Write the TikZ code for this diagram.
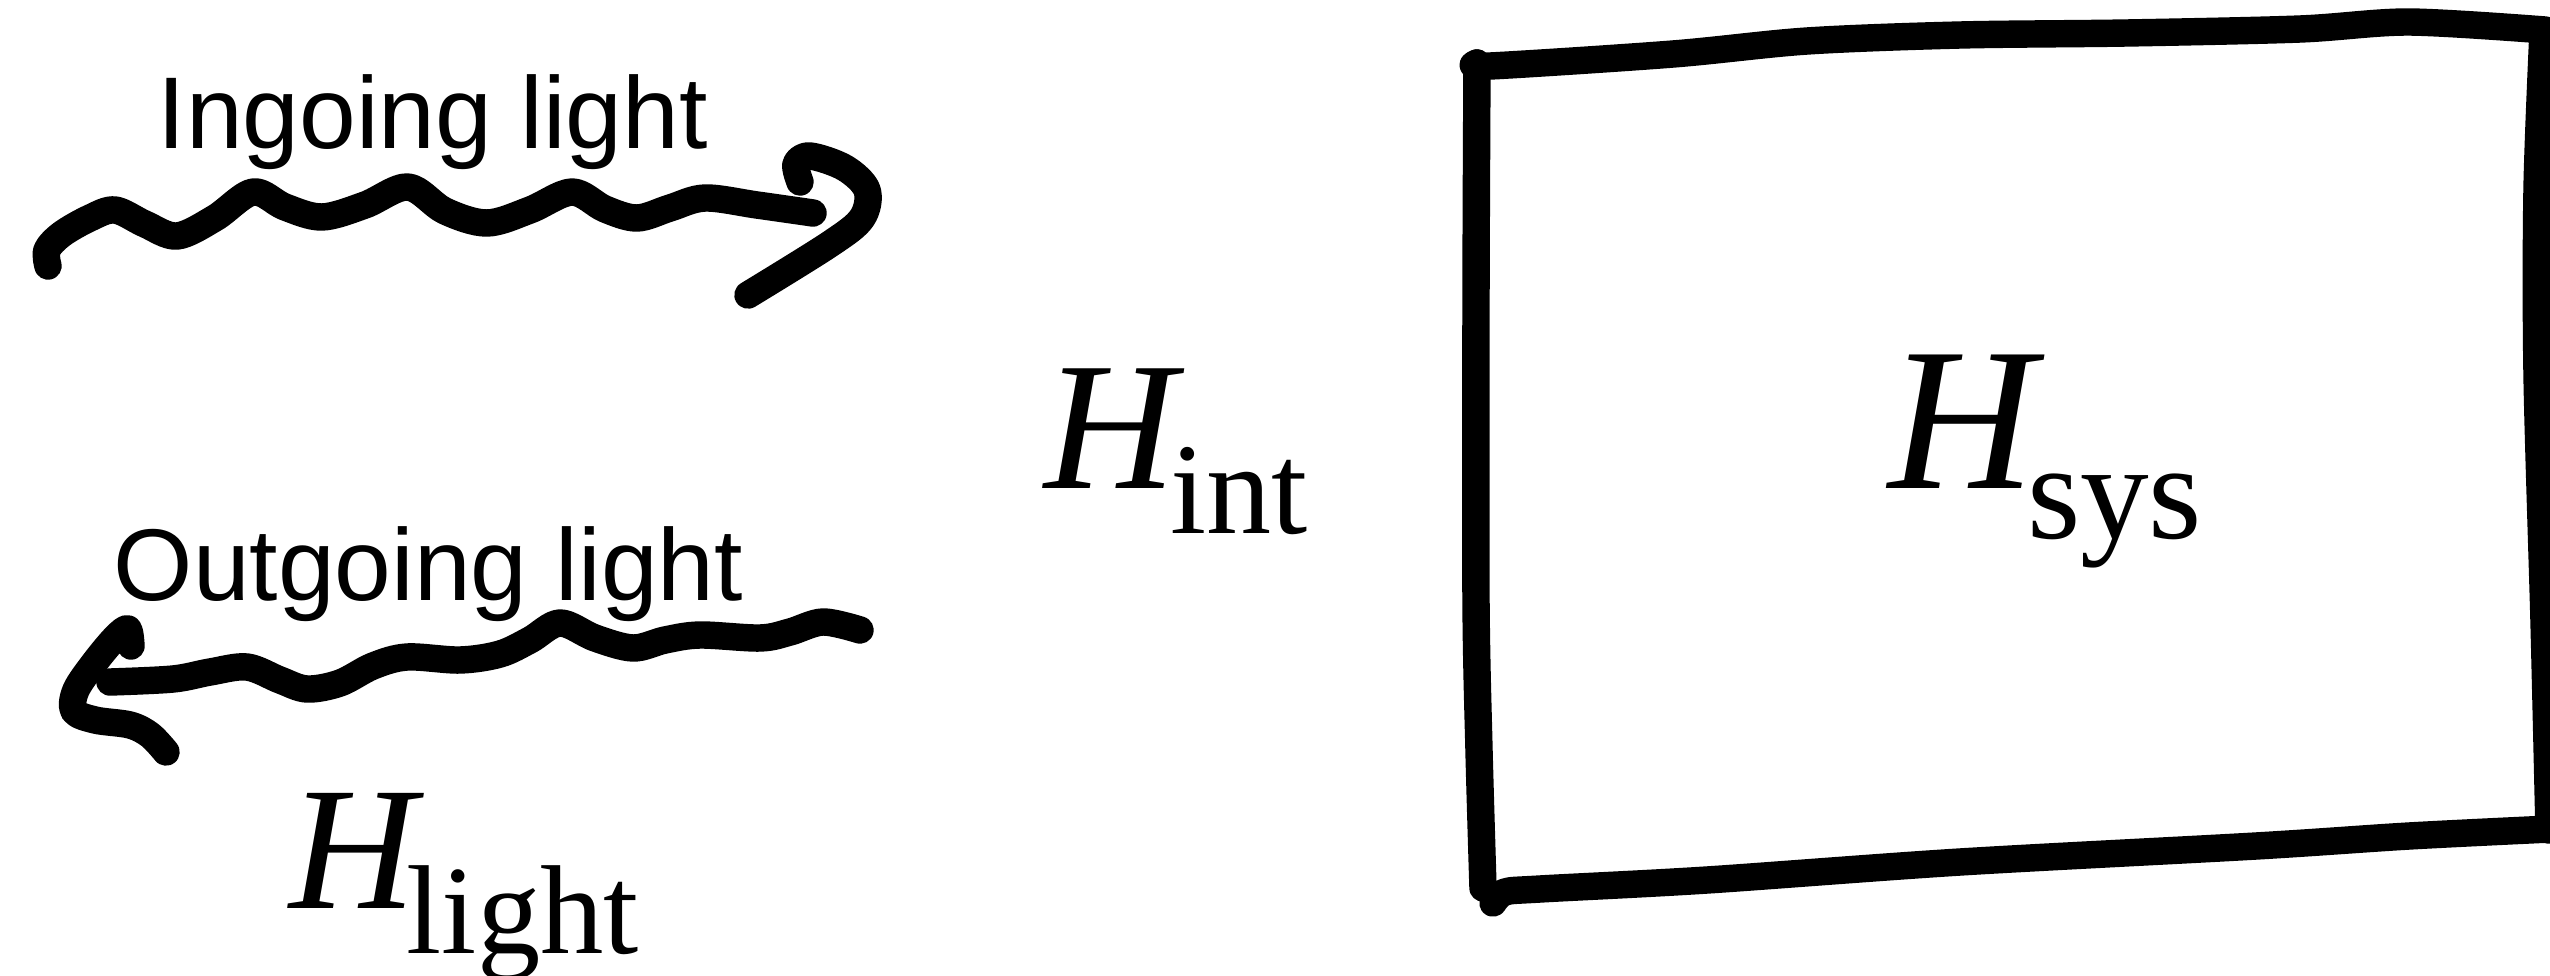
\documentclass[tikz,border=0pt]{standalone}
\usepackage{fontspec}
\setmainfont{Liberation Serif}
\newfontfamily\labelsans{Liberation Sans}
\tikzset{
  ink/.style={line width=7.8pt, line cap=round, line join=round, black},
  lbl/.style={inner sep=0pt, anchor=base west, font=\labelsans\fontsize{29}{29}\selectfont},
  ham/.style={inner sep=0pt, anchor=base west},
}
\begin{document}
\begin{tikzpicture}[x=0.01cm, y=-0.01cm]
\useasboundingbox (0,0) rectangle (2550,975);

% labels
\node[lbl] (ingoing) at (157,148) {Ingoing light};
\node[lbl] (outgoing) at (113,600) {Outgoing light};

\node[ham] (hint) at (1044,488) {\fontsize{52}{52}\selectfont\itshape H\kern-0.06cm\raisebox{-0.45cm}{\fontsize{37}{37}\selectfont\upshape int}};
\node[ham] (hsys) at (1888,488) {\fontsize{58}{58}\selectfont\itshape H\kern-0.09cm\raisebox{-0.50cm}{\fontsize{39}{39}\selectfont\upshape sys}};
\node[ham] (hlight) at (289,908) {\fontsize{50}{50}\selectfont\itshape H\kern-0.10cm\raisebox{-0.45cm}{\fontsize{36}{36}\selectfont\upshape light}};

% ingoing wave
\draw[ink] plot[smooth, tension=0.55] coordinates {(48,266) (47,250) (62,234) (90,218) (115,210) (145,224) (177,236) (215,218) (253,192) (285,207) (322,217) (365,205) (408,187) (445,211) (487,223) (530,210) (572,192) (605,209) (637,218) (670,208) (705,198) (757,205) (813,213)};
% ingoing arrowhead
\draw[ink] plot[smooth, tension=0.55] coordinates {(800,182) (796,164) (810,156) (845,168) (867,190) (862,218) (830,244) (748,295)};

% outgoing wave
\draw[ink] plot[smooth, tension=0.55] coordinates {(860,630) (823,622) (790,632) (760,638) (700,635) (665,640) (633,648) (595,638) (560,623) (530,640) (500,654) (460,660) (407,657) (373,666) (340,683) (307,689) (280,680) (247,667) (210,672) (173,679) (110,682)};
% outgoing arrowhead
\draw[ink] plot[smooth, tension=0.55] coordinates {(131,646) (128,629) (116,637) (95,662) (76,690) (74,711) (95,720) (130,725) (150,735) (166,752)};

% system box
\draw[ink] plot[smooth, tension=0.5] coordinates {(1477,63) (1476,300) (1476,600) (1479,750) (1483,888)};
\draw[ink] plot[smooth, tension=0.5] coordinates {(1477,63) (1490,66) (1673,54) (1807,41) (1960,35) (2126,33) (2300,29) (2409,22) (2545,30)};
\draw[ink] plot[smooth, tension=0.5] coordinates {(2543,32) (2537,190) (2537,373) (2544,621) (2549,830)};
\draw[ink] plot[smooth, tension=0.5] coordinates {(1493,903) (1505,892) (1540,889) (1707,880) (1960,862) (2256,846) (2409,836) (2550,829)};
\end{tikzpicture}
\end{document}
